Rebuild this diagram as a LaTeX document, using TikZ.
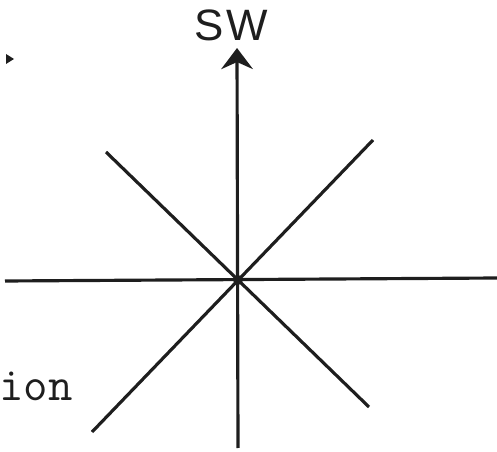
\documentclass[tikz,border=0pt]{standalone}
\usepackage{fontspec}
\setmainfont{Liberation Serif}
\newfontfamily\letterfont[LetterSpace=6]{Liberation Sans}
\usetikzlibrary{arrows.meta}
\definecolor{inkdark}{RGB}{30,30,30}

\begin{document}
\begin{tikzpicture}[
    x=0.02cm, y=-0.02cm,
    axis/.style={draw=inkdark, line width=1.8pt},
    tip/.style={-{Stealth[length=12pt, width=18pt, inset=4pt]}},
    lbl/.style={text=inkdark, inner sep=0pt}
]
\useasboundingbox (0,0) rectangle (497,452);

\coordinate (o) at (238,280);
\coordinate (top) at (237,48);
\coordinate (bot) at (238,448);
\coordinate (west) at (5,281);
\coordinate (east) at (497,278);
\coordinate (nw) at (106,152);
\coordinate (se) at (369,407);
\coordinate (ne) at (373,140);
\coordinate (sw) at (92,432);

% axes
\draw[axis, tip] (bot) -- (top);
\draw[axis] (west) -- (east);
\draw[axis] (nw) -- (se);
\draw[axis] (ne) -- (sw);
\fill[inkdark] (o) circle (5);

\node[lbl, font=\letterfont\fontsize{25}{28}\selectfont] (swlabel) at (231,25) {SW};
\node[lbl, anchor=base west, font=\ttfamily\fontsize{27}{30}\selectfont] (ionlabel) at (-1,400) {ion};

% stray mark
\fill[inkdark] (6,54) -- (14,59) -- (6,64) -- cycle;
\end{tikzpicture}
\end{document}
